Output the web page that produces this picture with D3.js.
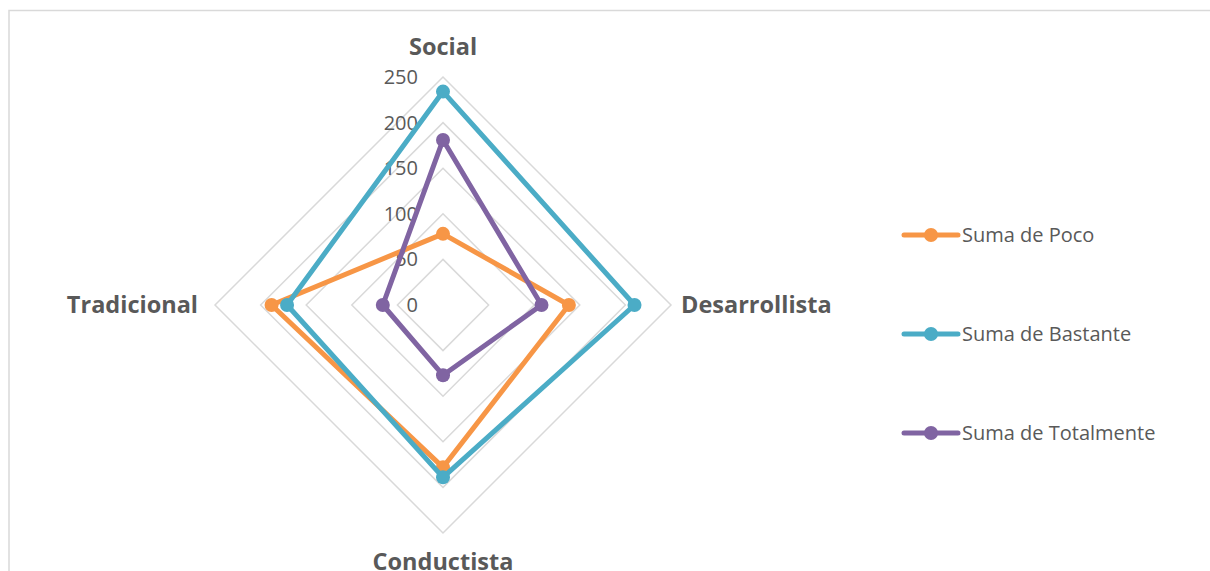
<!DOCTYPE html>
<html>
<head>
<meta charset="utf-8">
<script src="https://cdn.jsdelivr.net/npm/d3@7"></script>
<style>
  html, body { margin: 0; padding: 0; background: #fff; }
  svg { display: block; font-family: "Open Sans", sans-serif; }
</style>
</head>
<body>
<svg id="chart" width="1210" height="571"></svg>
<script>
// categories, clockwise from the top
var axes = ["Social", "Desarrollista", "Conductista", "Tradicional"];
var ticks = [0, 50, 100, 150, 200, 250];

var seriesNames = ["Suma de Poco", "Suma de Bastante", "Suma de Totalmente"];
var poco = [78, 138, 178, 188];
var bastante = [234, 210, 189, 171];
var totalmente = [181, 108, 77, 66];
var colors = ["#f79646", "#4bacc6", "#8064a2"];

var svg = d3.select("#chart");
var cx = 443, cy = 305, R = 228;

// frame of the chart area
svg.append("rect")
    .attr("x", 9).attr("y", 10.5)
    .attr("width", 1300).attr("height", 700)
    .attr("fill", "none")
    .attr("stroke", "#d9d9d9")
    .attr("stroke-width", 1.5);

var r = d3.scaleLinear().domain([0, 250]).range([0, R]);
var angle = d3.scalePoint().domain(axes.concat(["_end"])).range([0, 2 * Math.PI]);

function pt(cat, v) {
    var a = angle(cat);
    return [cx + r(v) * Math.sin(a), cy - r(v) * Math.cos(a)];
}

var g = svg.append("g");

// grid polygons
g.append("g")
    .selectAll("polygon")
    .data(ticks)
    .join("polygon")
        .attr("points", t => axes.map(c => pt(c, t).join(",")).join(" "))
        .attr("fill", "none")
        .attr("stroke", "#d9d9d9")
        .attr("stroke-width", 1.5);

// value labels along the top axis
g.append("g")
    .selectAll("text")
    .data(ticks)
    .join("text")
        .attr("x", cx - 25)
        .attr("y", t => pt("Social", t)[1])
        .attr("dy", "0.35em")
        .attr("text-anchor", "end")
        .attr("font-size", 20)
        .attr("fill", "#595959")
        .text(t => t);

// category labels
var labelPos = {
    "Social": { dx: 0, dy: -30, anchor: "middle" },
    "Desarrollista": { dx: 10, dy: 0, anchor: "start" },
    "Conductista": { dx: 0, dy: 29, anchor: "middle" },
    "Tradicional": { dx: -17, dy: 0, anchor: "end" }
};
g.append("g")
    .selectAll("text")
    .data(axes)
    .join("text")
        .attr("x", d => pt(d, 250)[0] + labelPos[d].dx)
        .attr("y", d => pt(d, 250)[1] + labelPos[d].dy)
        .attr("dy", "0.35em")
        .attr("text-anchor", d => labelPos[d].anchor)
        .attr("font-size", 23.5)
        .attr("font-weight", "bold")
        .attr("fill", "#595959")
        .text(d => d);

// series
var series = [poco, bastante, totalmente].map((vals, i) => ({
    name: seriesNames[i],
    color: colors[i],
    points: axes.map((c, j) => pt(c, vals[j]))
}));

var line = d3.line().curve(d3.curveLinearClosed);

var sg = g.append("g")
    .selectAll("g")
    .data(series)
    .join("g");

sg.append("path")
    .attr("d", d => line(d.points))
    .attr("fill", "none")
    .attr("stroke", d => d.color)
    .attr("stroke-width", 5)
    .attr("stroke-linejoin", "round");

sg.selectAll("circle")
    .data(d => d.points.map(p => ({ p: p, color: d.color })))
    .join("circle")
        .attr("cx", d => d.p[0])
        .attr("cy", d => d.p[1])
        .attr("r", 7)
        .attr("fill", d => d.color);

// legend
var legendY = d3.scalePoint().domain(seriesNames).range([235, 433]);
var lg = svg.append("g")
    .selectAll("g")
    .data(series)
    .join("g")
        .attr("transform", d => `translate(902, ${legendY(d.name)})`);

lg.append("line")
    .attr("x1", 2).attr("x2", 56)
    .attr("stroke", d => d.color)
    .attr("stroke-width", 5)
    .attr("stroke-linecap", "round");

lg.append("circle")
    .attr("cx", 29)
    .attr("r", 7)
    .attr("fill", d => d.color);

lg.append("text")
    .attr("x", 60)
    .attr("dy", "0.35em")
    .attr("font-size", 20)
    .attr("fill", "#595959")
    .text(d => d.name);
</script>
</body>
</html>
